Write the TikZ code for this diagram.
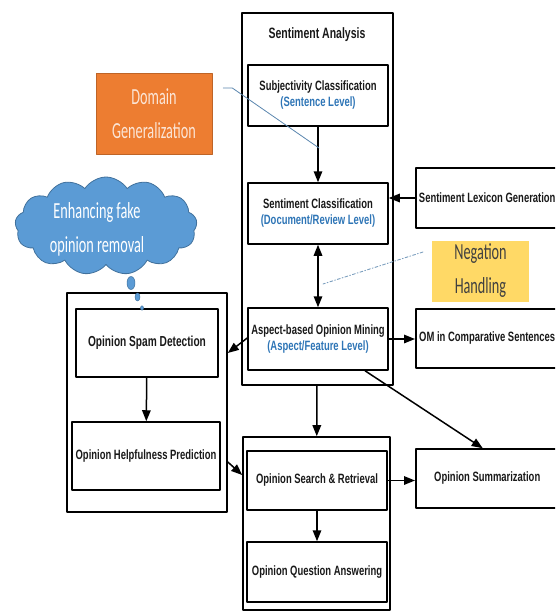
\documentclass[tikz,border=0pt]{standalone}
\usepackage{fontspec}
\usetikzlibrary{arrows.meta,shapes.symbols}
\newfontfamily\boxfont[FakeStretch=0.7]{Liberation Sans}
\newfontfamily\notefont[FakeStretch=0.62]{Carlito}
\definecolor{LevelBlue}{HTML}{2E75B6}
\definecolor{DomainOrange}{HTML}{ED7D31}
\definecolor{DomainText}{HTML}{FBE5D6}
\definecolor{NegationGold}{HTML}{FFD966}
\definecolor{CloudBlue}{HTML}{5B9BD5}
\definecolor{CloudEdge}{HTML}{41719C}
\definecolor{LinkBlue}{HTML}{5A86AE}
\tikzset{
  stage/.style={draw,line width=1.5pt,minimum width=140,minimum height=60,inner sep=1pt,
    align=center,text=black!90,font=\boxfont\bfseries\fontsize{13.5}{16}\selectfont},
  group/.style={draw,line width=1.6pt,inner sep=0pt},
  flow/.style={line width=1.5pt,-{Triangle[length=11pt,width=8.5pt]}},
  note/.style={align=center,inner sep=0pt,font=\notefont\fontsize{23}{34}\selectfont},
}
\newcommand{\lvl}[1]{\\{\color{LevelBlue}(#1)}}
\begin{document}
\begin{tikzpicture}[x=1pt,y=-1pt,line cap=round,line join=round]
  \useasboundingbox (0,0) rectangle (555,613);
  \clip (0,0) rectangle (555,613);
  % groups
  \node[group,minimum width=151,minimum height=372] (sa) at (317.5,199) {};
  \node[font=\boxfont\bfseries\fontsize{15}{18}\selectfont,text=black!90] (satitle) at (317,35) {Sentiment Analysis};
  \node[group,minimum width=160,minimum height=219] (spamgrp) at (147,402.5) {};
  \node[group,minimum width=147,minimum height=173] (searchgrp) at (316.5,523.5) {};
  % stages
  \node[stage,minimum height=61] (subj) at (318,95.5) {Subjectivity Classification\lvl{Sentence Level}};
  \node[stage,minimum height=61] (sentcls) at (318,213.5) {Sentiment Classification\lvl{Document/Review Level}};
  \node[stage,minimum height=62] (aspect) at (318,339) {Aspect-based Opinion Mining\lvl{Aspect/Feature Level}};
  \node[stage,anchor=west,minimum width=143] (lexicon) at (415,198) {Sentiment Lexicon Generation};
  \node[stage,anchor=west,minimum width=143,minimum height=59] (om) at (415,338.5) {OM in Comparative Sentences};
  \node[stage,minimum width=142,minimum height=68,font=\boxfont\bfseries\fontsize{14.5}{17}\selectfont] (spam) at (147,343) {Opinion Spam Detection};
  \node[stage,minimum width=148,minimum height=68] (helpful) at (146,456) {Opinion Helpfulness Prediction};
  \node[stage,minimum height=59] (search) at (317,480.5) {Opinion Search \& Retrieval};
  \node[stage] (qa) at (317,572) {Opinion Question Answering};
  \node[stage,anchor=west,minimum width=143,minimum height=59] (summ) at (415,478.5) {Opinion Summarization};
  % notes
  \node[note,fill=DomainOrange,draw=DomainOrange!80!black,line width=.6pt,text=DomainText,
    minimum width=116,minimum height=81] (domain) at (154,113.5) {Domain\\Generalization};
  \node[note,fill=NegationGold,text=black!75,minimum width=97,minimum height=61] (negation) at (480.5,271) {Negation\\Handling};
  \node[cloud,cloud puffs=13,cloud puff arc=115,aspect=1.9,fill=CloudBlue,draw=CloudEdge,
    line width=.8pt,minimum width=182,minimum height=98] (fakecloud) at (106,226) {};
  \node[note,text=white] (fake) at (97,229) {Enhancing fake\\opinion removal};
  \filldraw[fill=CloudBlue,draw=CloudEdge,line width=.5pt] (131,283) ellipse [x radius=4,y radius=6.5]
    (137.5,297) ellipse [x radius=2.5,y radius=4] (142,308) ellipse [x radius=1.5,y radius=2.2];
  % flows
  \draw[flow] (subj) -- (sentcls);
  \draw[flow] (lexicon.west) -- (sentcls.east |- lexicon.west);
  \draw[flow,{Triangle[length=11pt,width=8.5pt]}-{Triangle[length=11pt,width=8.5pt]}] (sentcls) -- (aspect);
  \draw[flow] (aspect.east) -- (om.west |- aspect.east);
  \draw[flow] ([yshift=1pt]aspect.west) -- ([yshift=49.5pt]spamgrp.east);
  \draw[flow] (spam) -- (helpful);
  \draw[flow] ([yshift=-59.5pt]spamgrp.east) -- ([yshift=48.5pt]searchgrp.west);
  \draw[flow] (sa) -- (searchgrp);
  \draw[flow] (search) -- (qa);
  \draw[flow] (search.east) -- (summ.west |- search.east);
  \draw[flow] ([xshift=47pt]aspect.south) -- ([xshift=-4.5pt]summ.north);
  % note links
  \coordinate (domainend) at (319,148);
  \coordinate (negstart) at (423,252);
  \coordinate (negend) at (323,284);
  \draw[LinkBlue,line width=.8pt] ([shift={(11,-25.5)}]domain.east) -- ++(9,0) -- (domainend);
  \draw[LinkBlue!80,line width=.9pt,dash dot] (negstart) -- (negend);
\end{tikzpicture}
\end{document}
